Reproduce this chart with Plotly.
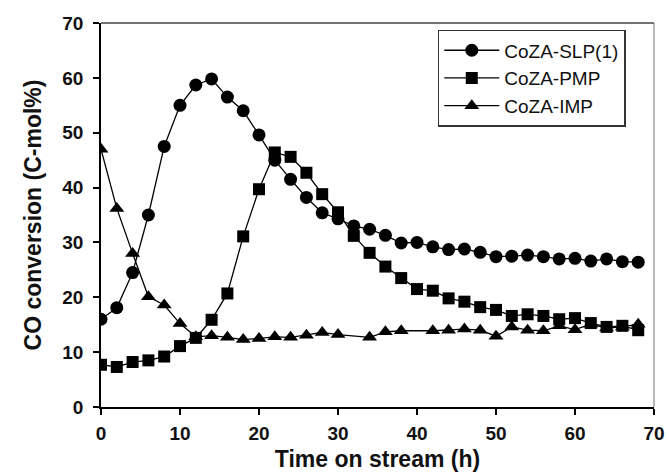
import plotly.graph_objects as go

time_h = [0, 2, 4, 6, 8, 10, 12, 14, 16, 18, 20, 22, 24, 26, 28, 30, 32, 34, 36, 38,
          40, 42, 44, 46, 48, 50, 52, 54, 56, 58, 60, 62, 64, 66, 68]
slp = [16.0, 18.1, 24.5, 35.0, 47.5, 55.0, 58.7, 59.8, 56.5, 54.0, 49.6, 45.0, 41.5, 38.2,
       35.4, 34.3, 33.0, 32.4, 31.3, 29.9, 30.0, 29.2, 28.7, 28.8, 28.2, 27.4, 27.5, 27.7,
       27.4, 27.0, 27.1, 26.6, 27.0, 26.5, 26.4]
pmp = [7.7, 7.3, 8.2, 8.5, 9.2, 11.1, 12.6, 15.9, 20.7, 31.1, 39.7, 46.4, 45.6, 42.7,
       38.8, 35.5, 31.2, 28.1, 25.6, 23.5, 21.5, 21.2, 19.8, 19.2, 18.2, 17.7, 16.6, 16.9,
       16.6, 16.0, 16.2, 15.3, 14.6, 14.8, 14.0]
imp_time = [0, 2, 4, 6, 8, 10, 12, 14, 16, 18, 20, 22, 24, 26, 28, 30, 34, 36, 38,
            42, 44, 46, 48, 50, 52, 54, 56, 58, 60, 62, 64, 66, 68]
imp = [47.0, 36.2, 28.0, 20.1, 18.6, 15.2, 12.8, 13.0, 12.7, 12.3, 12.5, 12.8, 12.7, 13.1,
       13.6, 13.2, 12.7, 13.7, 13.9, 13.9, 14.0, 14.2, 14.0, 12.9, 14.6, 14.0, 13.9, 14.8,
       14.1, 15.1, 14.4, 14.6, 15.1]
x_ticks = [0, 10, 20, 30, 40, 50, 60, 70]
y_ticks = [0, 10, 20, 30, 40, 50, 60, 70]

FONT = "Liberation Sans, Arial, sans-serif"

fig = go.Figure()
line = dict(color="black", width=1.3)
fig.add_trace(go.Scatter(x=time_h, y=slp, mode="lines+markers", name="CoZA-SLP(1)",
                         line=line, marker=dict(symbol="circle", size=13, color="black")))
fig.add_trace(go.Scatter(x=time_h, y=pmp, mode="lines+markers", name="CoZA-PMP",
                         line=line, marker=dict(symbol="square", size=12, color="black")))
fig.add_trace(go.Scatter(x=imp_time, y=imp, mode="lines+markers", name="CoZA-IMP",
                         line=line, marker=dict(symbol="triangle-up", size=13, color="black")))

tickfont = dict(family=FONT, size=19, color="#111", weight="bold")
titlefont = dict(family=FONT, size=23, color="#111", weight="bold")
fig.update_layout(
    width=669, height=473,
    margin=dict(l=101, r=15, t=23, b=66),
    paper_bgcolor="white", plot_bgcolor="white",
    showlegend=True,
    legend=dict(x=0.609, y=0.982, xanchor="left", yanchor="top",
                bgcolor="white", bordercolor="#333", borderwidth=1.5,
                font=dict(family=FONT, size=19, color="#111"),
                tracegroupgap=0, itemwidth=55),
    shapes=[
        dict(type="line", xref="paper", yref="paper", x0=0, x1=1, y0=1, y1=1,
             line=dict(color="#444", width=1.5)),
        dict(type="line", xref="paper", yref="paper", x0=1, x1=1, y0=0, y1=1,
             line=dict(color="#777", width=1)),
    ],
)
fig.update_xaxes(range=[0, 70], tickvals=x_ticks, ticks="outside", ticklen=6, tickwidth=1.5,
                 tickcolor="black", showline=True, linecolor="black", linewidth=1.8,
                 showgrid=False, zeroline=False, tickfont=tickfont, ticklabelstandoff=2,
                 automargin=False,
                 title=dict(text="Time on stream (h)", standoff=8, font=titlefont))
fig.update_yaxes(range=[0, 70], tickvals=y_ticks, ticks="outside", ticklen=6, tickwidth=1.5,
                 tickcolor="black", showline=True, linecolor="black", linewidth=1.8,
                 showgrid=False, zeroline=False, tickfont=tickfont, ticklabelstandoff=6,
                 automargin=False,
                 title=dict(text="CO conversion (C-mol%)", standoff=14, font=titlefont))
fig.write_html("out.html")
